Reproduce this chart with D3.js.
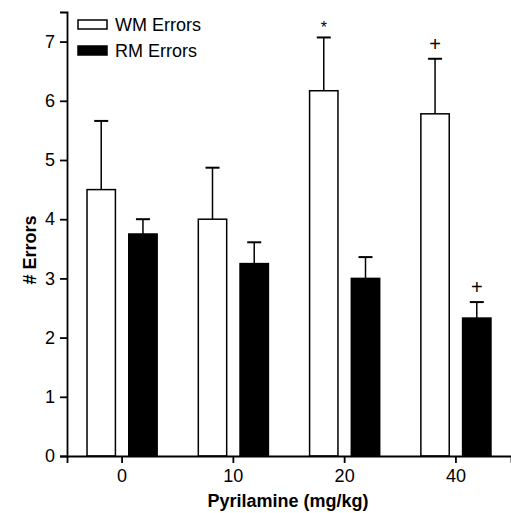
<!DOCTYPE html>
<html>
<head>
<meta charset="utf-8">
<script src="https://cdn.jsdelivr.net/npm/d3@7"></script>
<style>
  body { margin: 0; background: #fff; }
  text { font-family: "Liberation Sans", Arial, Helvetica, sans-serif; fill: #000; }
</style>
</head>
<body>
<svg id="chart" width="511" height="513"></svg>
<script>
// data
const doses = ['0', '10', '20', '40'];
const series = ['WM Errors', 'RM Errors'];
const wmMean = [4.5, 4.0, 6.17, 5.78];
const wmErr = [1.16, 0.87, 0.9, 0.93];
const rmMean = [3.75, 3.25, 3.0, 2.33];
const rmErr = [0.25, 0.36, 0.36, 0.27];
const yTicks = [0, 1, 2, 3, 4, 5, 6, 7];
// significance marks: [dose, series index, symbol]
const marks = [['20', 0, '*'], ['40', 0, '+'], ['40', 1, '+']];

const svg = d3.select('#chart');
const left = 67, baseY = 456, topY = 12, right = 511;

const x0 = d3.scaleBand().domain(doses).range([left, right])
  .paddingInner(0.37).paddingOuter(0.18);
const x1 = d3.scaleBand().domain([0, 1]).range([0, x0.bandwidth()]).paddingInner(0.32);
const y = d3.scaleLinear().domain([0, 7.5]).range([baseY, topY]);

const data = [];
doses.forEach((d, i) => {
  data.push({dose: d, s: 0, v: wmMean[i], e: wmErr[i]});
  data.push({dose: d, s: 1, v: rmMean[i], e: rmErr[i]});
});

// error bars (drawn first, stem hidden behind bar)
const eb = svg.append('g');
data.forEach(d => {
  const cx = x0(d.dose) + x1(d.s) + x1.bandwidth() / 2;
  eb.append('line').attr('x1', cx).attr('x2', cx)
    .attr('y1', y(d.v)).attr('y2', y(d.v + d.e))
    .attr('stroke', '#000').attr('stroke-width', 1.5);
  eb.append('line').attr('x1', cx - 7).attr('x2', cx + 7)
    .attr('y1', y(d.v + d.e)).attr('y2', y(d.v + d.e))
    .attr('stroke', '#000').attr('stroke-width', 2);
});

svg.append('g').selectAll('rect')
  .data(data)
  .enter().append('rect')
  .attr('x', d => x0(d.dose) + x1(d.s))
  .attr('y', d => y(d.v))
  .attr('width', x1.bandwidth())
  .attr('height', d => baseY - y(d.v))
  .attr('fill', d => d.s === 0 ? '#fff' : '#000')
  .attr('stroke', '#000')
  .attr('stroke-width', 1.5);

// significance symbols
marks.forEach(m => {
  const i = doses.indexOf(m[0]);
  const top = m[1] === 0 ? wmMean[i] + wmErr[i] : rmMean[i] + rmErr[i];
  svg.append('text')
    .attr('x', x0(m[0]) + x1(m[1]) + x1.bandwidth() / 2)
    .attr('y', y(top) - (m[2] === '*' ? 4 : 8))
    .attr('text-anchor', 'middle')
    .style('font-size', m[2] === '*' ? '16px' : '20px')
    .text(m[2]);
});

// axes
const xAxis = svg.append('g')
  .attr('transform', `translate(0,${baseY})`)
  .call(d3.axisBottom(x0).tickSizeOuter(0).tickSize(7).tickPadding(6));
const yAxis = svg.append('g')
  .attr('transform', `translate(${left},0)`)
  .call(d3.axisLeft(y).tickValues(yTicks).tickFormat(d3.format('d')).tickSizeOuter(0).tickSize(7).tickPadding(5));
[xAxis, yAxis].forEach(a => {
  a.select('.domain').attr('stroke-width', 1.8);
  a.selectAll('.tick line').attr('stroke-width', 1.8);
  a.selectAll('.tick text').style('font-size', '18px')
    .style('font-family', '"Liberation Sans", Arial, sans-serif');
});

// axis titles
svg.append('text')
  .attr('x', (left + right) / 2 - 1).attr('y', 507)
  .attr('text-anchor', 'middle')
  .style('font-size', '18px').style('font-weight', 'bold')
  .text('Pyrilamine (mg/kg)');
svg.append('text')
  .attr('transform', 'translate(36,250) rotate(-90)')
  .attr('text-anchor', 'middle')
  .style('font-size', '18px').style('font-weight', 'bold')
  .text('# Errors');

// legend
const leg = svg.append('g');
series.forEach((s, i) => {
  leg.append('rect')
    .attr('x', 78).attr('y', 20 + i * 26)
    .attr('width', 29).attr('height', 9)
    .attr('fill', i === 0 ? '#fff' : '#000')
    .attr('stroke', '#000').attr('stroke-width', 1.5);
  leg.append('text')
    .attr('x', 115).attr('y', 31 + i * 26)
    .style('font-size', '18px')
    .text(s);
});
</script>
</body>
</html>
